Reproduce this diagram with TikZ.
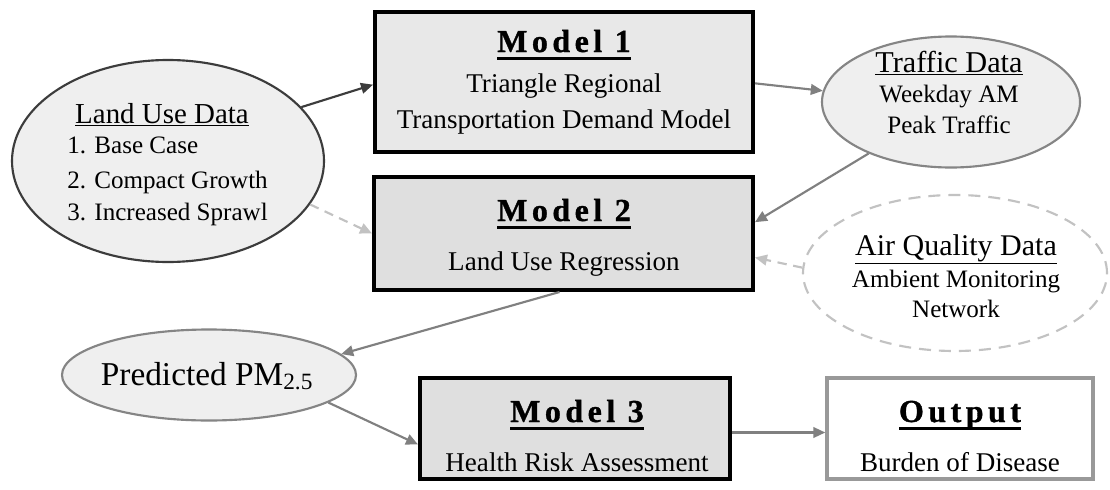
\documentclass[tikz,border=0pt]{standalone}
\usepackage{fontspec}
\setmainfont{Liberation Serif}
\newfontfamily\headfont{Liberation Serif}[LetterSpace=14, BoldFeatures={FakeBold=1}]
\usetikzlibrary{shapes.geometric,arrows.meta}
\definecolor{boxA}{HTML}{E8E8E8}
\definecolor{boxB}{HTML}{DFDFDF}
\definecolor{ellfill}{HTML}{EFEFEF}
\definecolor{ellline}{HTML}{858585}
\definecolor{darkline}{HTML}{3C3C3C}
\definecolor{dashline}{HTML}{C2C2C2}
\definecolor{outline}{HTML}{999999}
\definecolor{arrowc}{HTML}{808080}
\newcommand\thickul[1]{\setbox0=\hbox{#1}\leavevmode\rlap{\rule[-6pt]{\wd0}{2.2pt}}\box0}
\tikzset{
  modelbox/.style={draw=black, line width=3pt, inner sep=0pt},
  ell/.style={ellipse, draw=ellline, fill=ellfill, line width=1.6pt, inner sep=0pt},
  head/.style={anchor=base, inner sep=0pt, font=\headfont\bfseries\fontsize{24}{28}\selectfont},
  sub/.style={anchor=base, inner sep=0pt, font=\fontsize{20.3}{24}\selectfont},
  small/.style={anchor=base, inner sep=0pt, font=\fontsize{18.8}{22}\selectfont},
  title/.style={anchor=base, inner sep=0pt, font=\fontsize{22.7}{26}\selectfont},
  conn/.style={draw=arrowc, line width=1.6pt, -{Triangle[length=9pt,width=8pt]}},
  dconn/.style={draw=dashline, line width=1.6pt, dash pattern=on 7pt off 5pt, -{Triangle[length=9pt,width=8pt]}},
}
\begin{document}
\begin{tikzpicture}[x=0.75pt,y=-0.75pt]
\useasboundingbox[fill=white] (0,0) rectangle (1110,489);
% shapes
\node[modelbox, fill=boxA, minimum width=283.5pt, minimum height=105pt] (m1) at (564,82) {};
\node[modelbox, fill=boxB, minimum width=284.25pt, minimum height=84.75pt] (m2) at (563.5,233.5) {};
\node[modelbox, fill=boxB, minimum width=232.5pt, minimum height=75.75pt] (m3) at (575,428.5) {};
\node[draw=outline, fill=white, line width=2.6pt, inner sep=0pt, minimum width=199.5pt, minimum height=75.75pt] (out) at (960,428.5) {};
\node[ell, draw=darkline, minimum width=234pt, minimum height=151.5pt] (land) at (168,161) {};
\node[ell, minimum width=193.5pt, minimum height=98.25pt] (traffic) at (951,102) {};
\node[ellipse, draw=dashline, line width=1.6pt, dash pattern=on 9pt off 6pt, inner sep=0pt, minimum width=228pt, minimum height=117pt] (air) at (955,273) {};
\node[ell, minimum width=220.5pt, minimum height=68.25pt] (pm) at (209,375) {};
% texts
\node[head] (t1a) at (564,52) {\thickul{Model 1}};
\node[sub] (t1b) at (564,92) {Triangle Regional};
\node[sub] (t1c) at (564,128) {Transportation Demand Model};
\node[head] (t2a) at (564,221) {\thickul{Model 2}};
\node[sub] (t2b) at (564,270) {Land Use Regression};
\node[head] (t3a) at (577,422) {\thickul{Model 3}};
\node[sub] (t3b) at (577,471) {Health Risk Assessment};
\node[head] (toa) at (960,422) {\thickul{Output}};
\node[sub] (tob) at (960,471) {Burden of Disease};
\node[title, font=\fontsize{21.7}{26}\selectfont] (tla) at (162,123) {\underline{Land Use Data}};
\node[small, anchor=base west] (tlb) at (67,153) {1. Base Case};
\node[small, anchor=base west] (tlc) at (67,188) {2. Compact Growth};
\node[small, anchor=base west] (tld) at (67,220) {3. Increased Sprawl};
\node[title] (tta) at (949,72) {\underline{Traffic Data}};
\node[small] (ttb) at (949,102) {Weekday AM};
\node[small] (ttc) at (949,133) {Peak Traffic};
\node[title, font=\fontsize{22.5}{26}\selectfont] (taa) at (956,255) {\underline{Air Quality Data}};
\node[small] (tab) at (956,287) {Ambient Monitoring};
\node[small] (tac) at (956,317) {Network};
\node[anchor=base, inner sep=0pt, font=\fontsize{25}{28}\selectfont] (tpm) at (207,385) {Predicted PM\textsubscript{2.5}};
% connectors
\draw[conn, draw=darkline] (land.22) -- ([yshift=-2pt]m1.west);
\draw[dconn] (land.-17) -- (m2.west);
\draw[conn] ([yshift=-1pt]m1.east) -- (traffic.175);
\draw[conn] (traffic.212) -- ([yshift=8.5pt]m2.east);
\draw[dconn] (air.178) -- ([yshift=-18pt]m2.east);
\draw[conn] ([xshift=-3pt]m2.south) -- (pm.9);
\draw[conn] (pm.-13) -- ([yshift=-12pt]m3.west);
\draw[conn] ([yshift=-3pt]m3.east) -- ([yshift=-3pt]out.west);
\end{tikzpicture}
\end{document}
